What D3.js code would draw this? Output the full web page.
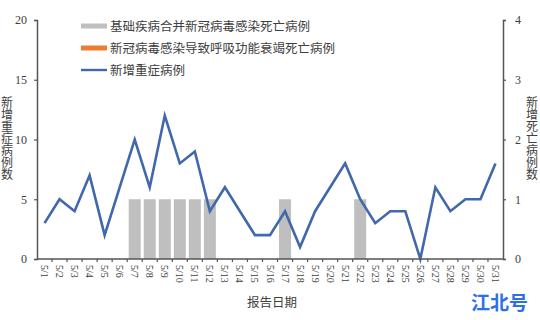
<!DOCTYPE html>
<html>
<head>
<meta charset="utf-8">
<script src="https://cdn.jsdelivr.net/npm/d3@7"></script>
<style>
  html, body { margin: 0; padding: 0; background: #fff; }
  svg { display: block; }
  text { font-family: "Liberation Serif", "Noto Sans CJK SC", serif; fill: #404040; }
</style>
</head>
<body>
<svg id="chart" width="540" height="320"></svg>
<script>
// Report dates (May)
const dates = ["5/1","5/2","5/3","5/4","5/5","5/6","5/7","5/8","5/9","5/10","5/11","5/12","5/13","5/14","5/15","5/16","5/17","5/18","5/19","5/20","5/21","5/22","5/23","5/24","5/25","5/26","5/27","5/28","5/29","5/30","5/31"];
// New severe cases per day (left axis)
const severeCases = [3,5,4,7,2,6,10,6,12,8,9,4,6,4,2,2,4,1,4,6,8,5,3,4,4,0,6,4,5,5,8];
// Deaths: underlying disease combined with infection (right axis)
const deathsComorbid = [0,0,0,0,0,0,1,1,1,1,1,1,0,0,0,0,1,0,0,0,0,1,0,0,0,0,0,0,0,0,0];
// Deaths: respiratory failure caused by infection (right axis)
const deathsRespiratory = [0,0,0,0,0,0,0,0,0,0,0,0,0,0,0,0,0,0,0,0,0,0,0,0,0,0,0,0,0,0,0];
const leftTicks = [0,5,10,15,20];
const rightTicks = [0,1,2,3,4];
const legendLabels = ["基础疾病合并新冠病毒感染死亡病例","新冠病毒感染导致呼吸功能衰竭死亡病例","新增重症病例"];

const svg = d3.select("#chart");
const plotLeft = 37, plotRight = 503, plotTop = 20, plotBottom = 259;

const x = d3.scaleBand().domain(dates).range([plotLeft, plotRight]).paddingInner(0.2).paddingOuter(0.1);
const yL = d3.scaleLinear().domain([0, 20]).range([plotBottom, plotTop]);
const yR = d3.scaleLinear().domain([0, 4]).range([plotBottom, plotTop]);

const axisColor = "#555";

// Bars: comorbid deaths (grey), stacked respiratory deaths (orange)
svg.append("g").selectAll("rect").data(dates).join("rect")
  .attr("x", d => x(d))
  .attr("width", x.bandwidth())
  .attr("y", (d, i) => yR(deathsComorbid[i]))
  .attr("height", (d, i) => yR(0) - yR(deathsComorbid[i]))
  .attr("fill", "#BFBFBF");
svg.append("g").selectAll("rect").data(dates).join("rect")
  .attr("x", d => x(d))
  .attr("width", x.bandwidth())
  .attr("y", (d, i) => yR(deathsComorbid[i] + deathsRespiratory[i]))
  .attr("height", (d, i) => yR(deathsComorbid[i]) - yR(deathsComorbid[i] + deathsRespiratory[i]))
  .attr("fill", "#ED7D31");

// Severe case line
const line = d3.line()
  .x((d, i) => x(dates[i]) + x.bandwidth() / 2)
  .y(d => yL(d));
svg.append("path").datum(severeCases)
  .attr("d", line)
  .attr("fill", "none")
  .attr("stroke", "#4068AA")
  .attr("stroke-width", 2.6)
  .attr("stroke-linejoin", "miter");

// Left axis
const gL = svg.append("g").attr("transform", `translate(${plotLeft},0)`)
  .call(d3.axisLeft(yL).tickValues(leftTicks).tickFormat(d3.format("d")).tickSize(3).tickPadding(7));
// Right axis
const gR = svg.append("g").attr("transform", `translate(${plotRight},0)`)
  .call(d3.axisRight(yR).tickValues(rightTicks).tickFormat(d3.format("d")).tickSize(3).tickPadding(9));
[gL, gR].forEach(g => {
  g.select(".domain").attr("stroke", axisColor).attr("stroke-width", 1.5);
  g.selectAll(".tick line").attr("stroke", axisColor).attr("stroke-width", 1.2);
  g.selectAll(".tick text").style("font-size", "12px").attr("fill", "#404040")
    .style("font-family", "'Liberation Serif', serif");
});

// Bottom axis with ticks at band boundaries
const gB = svg.append("g").attr("transform", `translate(0,${plotBottom})`);
gB.append("line").attr("x1", plotLeft).attr("x2", plotRight).attr("stroke", axisColor).attr("stroke-width", 1.5);
const step = x.step();
gB.selectAll("line.t").data(dates.slice(1)).join("line")
  .attr("class", "t")
  .attr("x1", d => x(d) - step * x.paddingInner() / 2)
  .attr("x2", d => x(d) - step * x.paddingInner() / 2)
  .attr("y1", 0).attr("y2", 3)
  .attr("stroke", axisColor).attr("stroke-width", 1.2);
gB.selectAll("text").data(dates).join("text")
  .attr("transform", d => `translate(${x(d) + x.bandwidth() / 2},6) rotate(90)`)
  .attr("dy", "0.35em")
  .attr("text-anchor", "start")
  .style("font-size", "10px")
  .text(d => d);

// Axis titles written top-to-bottom
function verticalTitle(str, cx, cy) {
  svg.append("text")
    .attr("x", cx).attr("y", cy)
    .attr("text-anchor", "middle")
    .style("writing-mode", "vertical-rl")
    .style("font-size", "12px")
    .style("font-family", "'Noto Sans CJK SC', sans-serif")
    .text(str);
}
verticalTitle("新增重症病例数", 7, 138);
verticalTitle("新增死亡病例数", 532, 138);

svg.append("text").attr("x", 272).attr("y", 307).attr("text-anchor", "middle")
  .style("font-size", "12.5px").style("font-family", "'Noto Sans CJK SC', sans-serif")
  .text("报告日期");

// Legend
const lg = svg.append("g").attr("transform", "translate(81,0)");
const rowY = [26, 48, 70];
lg.append("rect").attr("x", 0).attr("y", rowY[0] - 2.5).attr("width", 26).attr("height", 5).attr("fill", "#BFBFBF");
lg.append("rect").attr("x", 0).attr("y", rowY[1] - 2.5).attr("width", 26).attr("height", 5).attr("fill", "#ED7D31");
lg.append("line").attr("x1", 0).attr("x2", 26).attr("y1", rowY[2]).attr("y2", rowY[2])
  .attr("stroke", "#4068AA").attr("stroke-width", 2.4);
lg.selectAll("text").data(legendLabels).join("text")
  .attr("x", 29).attr("y", (d, i) => rowY[i]).attr("dy", "0.36em")
  .style("font-size", "12.5px").style("font-family", "'Noto Sans CJK SC', sans-serif")
  .attr("fill", "#505050")
  .text(d => d);

// Watermark
svg.append("text").attr("x", 471).attr("y", 310)
  .style("font-size", "19px").style("font-weight", "bold")
  .style("font-family", "'Noto Sans CJK SC', sans-serif")
  .style("fill", "#2D6FE8")
  .text("江北号");
</script>
</body>
</html>
